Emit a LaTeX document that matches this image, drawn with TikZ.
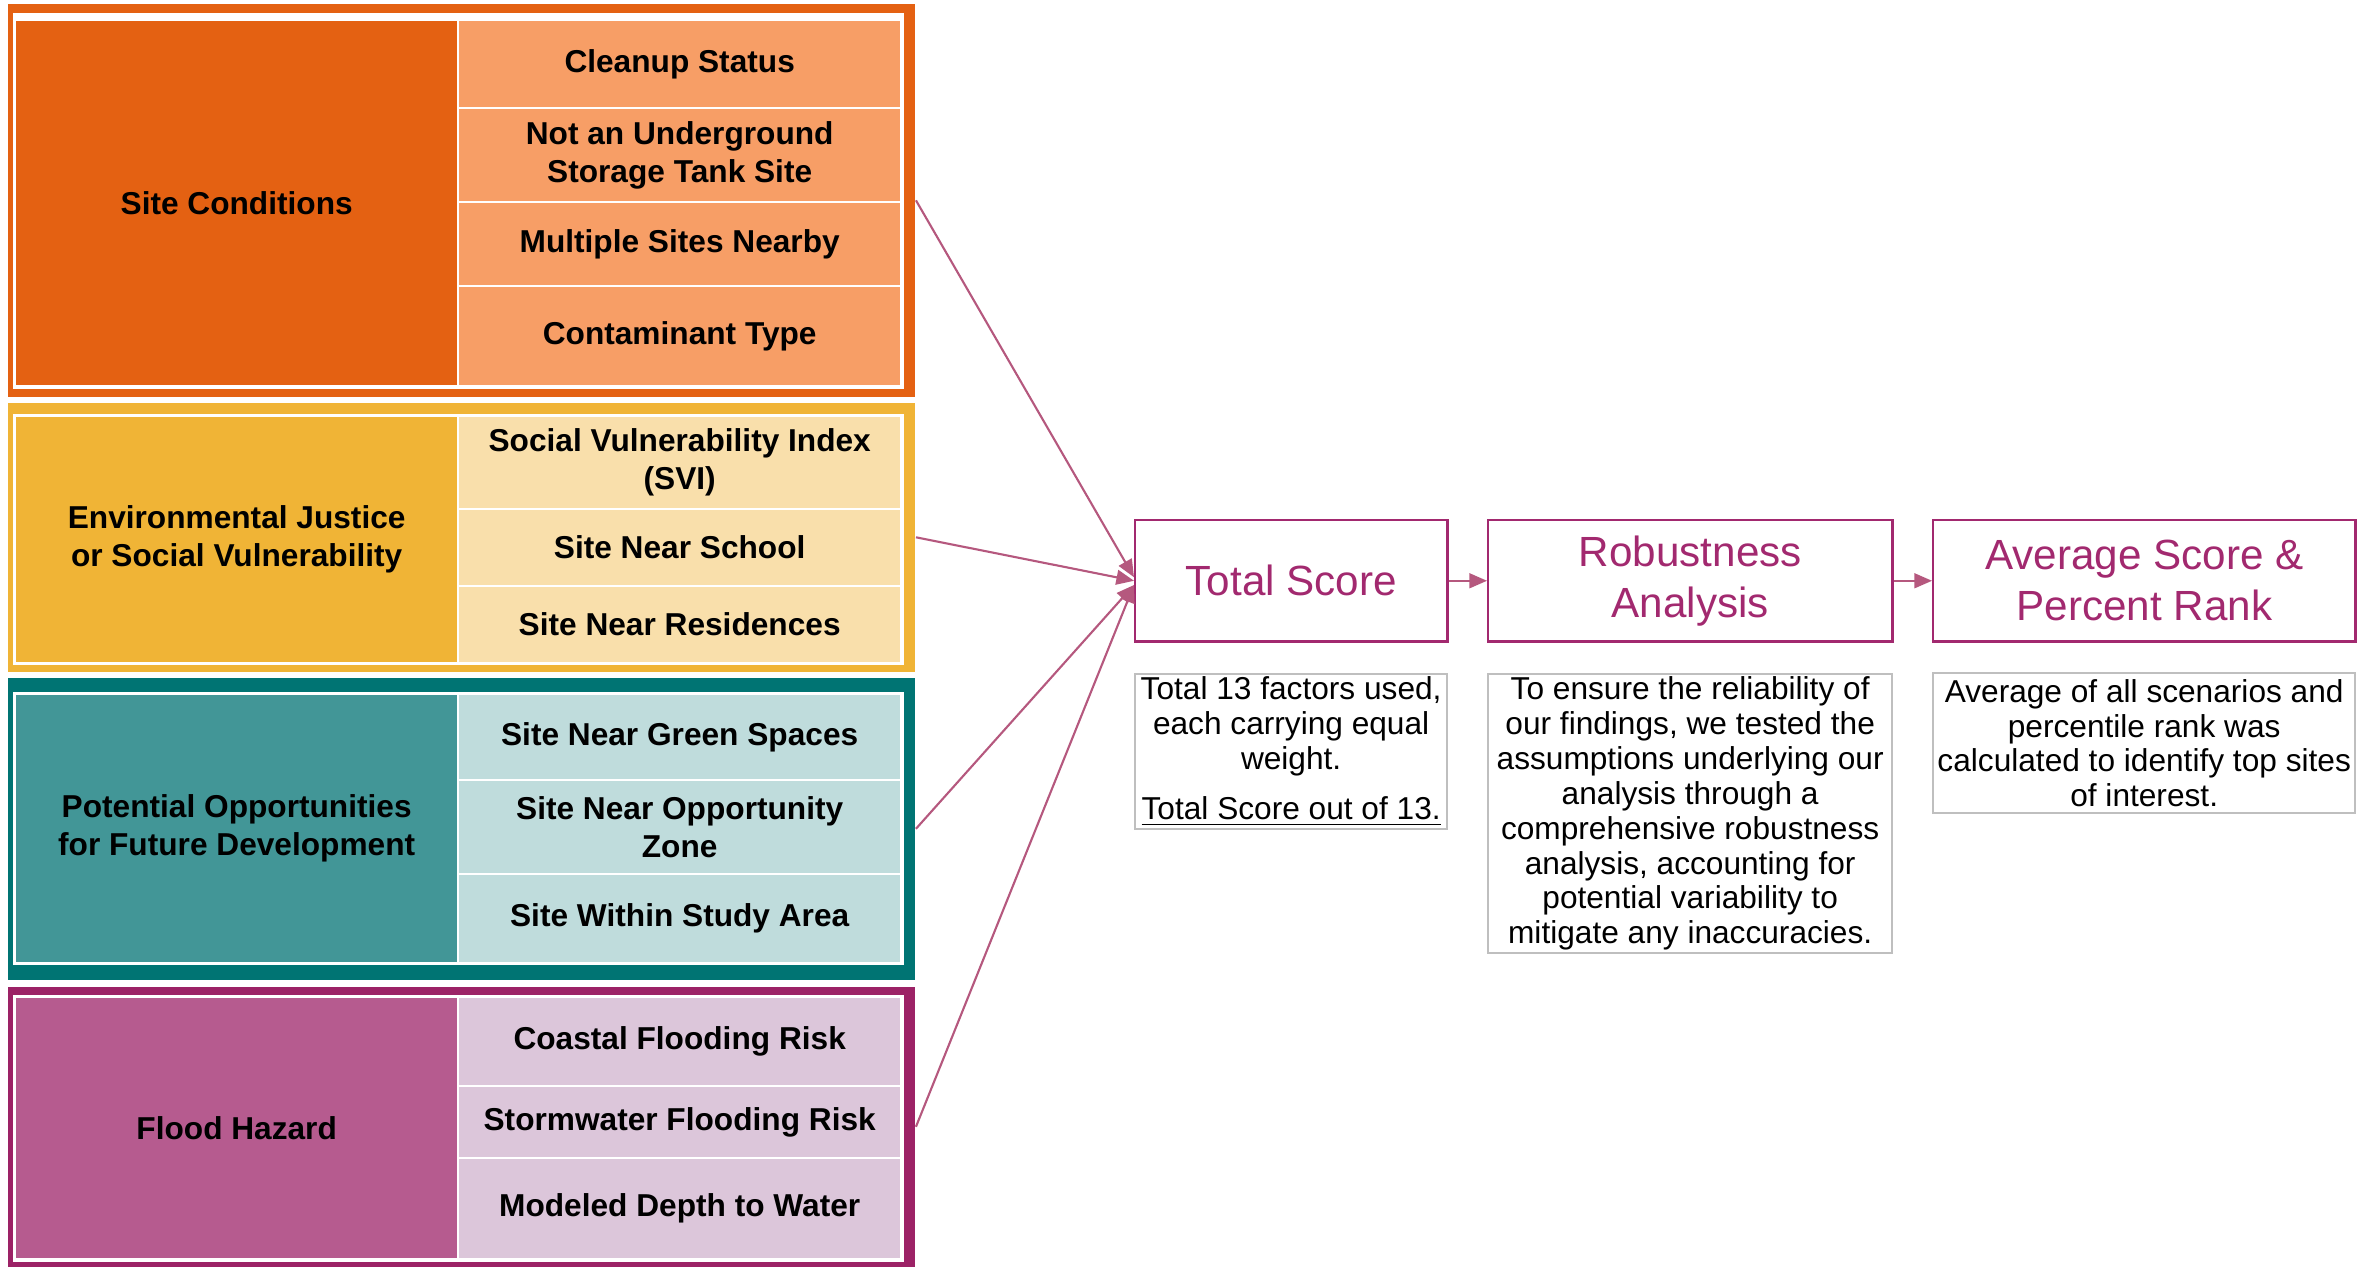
\documentclass[tikz,border=0pt]{standalone}
\usepackage{fontspec}
\setmainfont{Liberation Sans}
\usetikzlibrary{arrows.meta}
\definecolor{orD}{HTML}{E46112}
\definecolor{orL}{HTML}{F79E66}
\definecolor{yeD}{HTML}{F0B436}
\definecolor{yeL}{HTML}{F9DFAB}
\definecolor{teO}{HTML}{007473}
\definecolor{teD}{HTML}{429697}
\definecolor{teL}{HTML}{BFDCDC}
\definecolor{puO}{HTML}{9C2266}
\definecolor{puD}{HTML}{B65B8F}
\definecolor{puL}{HTML}{DCC6DA}
\definecolor{boxc}{HTML}{A2296F}
\definecolor{arrc}{HTML}{B5587E}
\definecolor{descb}{HTML}{BFBFBF}
\begin{document}
\begin{tikzpicture}[x=0.01cm,y=-0.01cm,
  cellbox/.style={draw=white, line width=0.6pt, inner sep=0pt, anchor=north west, minimum width=4.43cm, align=center, font=\bfseries\fontsize{9}{10.75}\selectfont},
  frame/.style={inner sep=0pt, anchor=north west, minimum width=9.07cm},
  inframe/.style={inner sep=0pt, anchor=north west, minimum width=8.91cm, fill=white},
  hdr/.style={draw=boxc, line width=0.7pt, text=boxc, align=center, inner sep=0pt, anchor=north west, minimum height=1.21cm, font=\fontsize{12}{14.6}\selectfont},
  desc/.style={draw=descb, line width=0.6pt, align=center, inner sep=0pt, anchor=north west, font=\fontsize{9}{9.9}\selectfont},
  link/.style={draw=arrc, line width=0.6pt, -{Triangle[length=5pt,width=4.2pt]}}
]
\useasboundingbox (0,0) rectangle (2369,1266);

% Site Conditions group
\node[frame, fill=orD, minimum height=3.93cm] (fo) at (7,3) {};
\node[inframe, minimum height=3.76cm] (wo) at (12,12) {};
\node[cellbox, fill=orD, minimum height=3.66cm] (co) at (14,19) {Site Conditions};
\node[cellbox, fill=orL, minimum height=0.88cm] (o1) at (457,19) {Cleanup Status};
\node[cellbox, fill=orL, minimum height=0.94cm] (o2) at (457,107) {Not an Underground\\Storage Tank Site};
\node[cellbox, fill=orL, minimum height=0.84cm] (o3) at (457,201) {Multiple Sites Nearby};
\node[cellbox, fill=orL, minimum height=1.00cm] (o4) at (457,285) {Contaminant Type};

% Environmental Justice group
\node[frame, fill=yeD, minimum height=2.69cm] (fy) at (7,402) {};
\node[inframe, minimum height=2.51cm] (wy) at (12,413) {};
\node[cellbox, fill=yeD, minimum height=2.47cm] (cy) at (14,415) {Environmental Justice\\or Social Vulnerability};
\node[cellbox, fill=yeL, minimum height=0.93cm] (y1) at (457,415) {Social Vulnerability Index\\(SVI)};
\node[cellbox, fill=yeL, minimum height=0.77cm] (y2) at (457,508) {Site Near School};
\node[cellbox, fill=yeL, minimum height=0.77cm] (y3) at (457,585) {Site Near Residences};

% Potential Opportunities group
\node[frame, fill=teO, minimum height=3.02cm] (ft) at (7,677) {};
\node[inframe, minimum height=2.73cm] (wt) at (12,691) {};
\node[cellbox, fill=teD, minimum height=2.69cm] (ct) at (14,693) {Potential Opportunities\\for Future Development};
\node[cellbox, fill=teL, minimum height=0.86cm] (t1) at (457,693) {Site Near Green Spaces};
\node[cellbox, fill=teL, minimum height=0.94cm] (t2) at (457,779) {Site Near Opportunity\\Zone};
\node[cellbox, fill=teL, minimum height=0.89cm] (t3) at (457,873) {Site Within Study Area};

% Flood Hazard group
\node[frame, fill=puO, minimum height=2.80cm] (fp) at (7,986) {};
\node[inframe, minimum height=2.67cm] (wp) at (12,994) {};
\node[cellbox, fill=puD, minimum height=2.62cm] (cp) at (14,996) {Flood Hazard};
\node[cellbox, fill=puL, minimum height=0.89cm] (p1) at (457,996) {Coastal Flooding Risk};
\node[cellbox, fill=puL, minimum height=0.72cm] (p2) at (457,1085) {Stormwater Flooding Risk};
\node[cellbox, fill=puL, minimum height=1.01cm] (p3) at (457,1157) {Modeled Depth to Water};

% Header boxes
\node[hdr, minimum width=3.12cm] (ts) at (1134,519) {Total Score};
\node[hdr, minimum width=4.04cm] (ra) at (1487,519) {Robustness\\Analysis};
\node[hdr, minimum width=4.22cm] (av) at (1932,519) {Average Score \&\\Percent Rank};

% Description boxes
\node[desc, minimum width=3.12cm, minimum height=1.55cm] (dt) at (1134,673) {Total 13 factors used,\\each carrying equal\\weight.\\[4.3pt]\underline{Total Score out of 13.}};
\node[desc, minimum width=4.04cm, minimum height=2.79cm] (dr) at (1487,673) {To ensure the reliability of\\our findings, we tested the\\assumptions underlying our\\analysis through a\\comprehensive robustness\\analysis, accounting for\\potential variability to\\mitigate any inaccuracies.};
\node[desc, minimum width=4.22cm, minimum height=1.40cm] (da) at (1932,672) {Average of all scenarios and\\percentile rank was\\calculated to identify top sites\\of interest.};

% Connectors
\draw[link] (fo.east) -- ([yshift=1pt]ts.west);
\draw[link] (fy.east) -- (ts.west);
\draw[link] (ft.east) -- ([yshift=-1.2pt]ts.west);
\draw[link] (fp.east) -- ([yshift=-1.2pt]ts.west);
\draw[link] (ts.east) -- (ra.west);
\draw[link] (ra.east) -- (av.west);
\end{tikzpicture}
\end{document}
